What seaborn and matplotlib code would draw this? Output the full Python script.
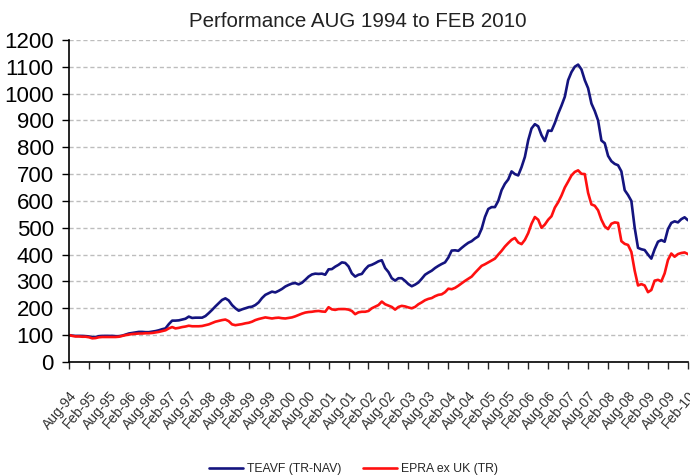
import matplotlib
matplotlib.use("Agg")
import matplotlib.pyplot as plt
import numpy as np
import pandas as pd
import seaborn as sns

# monthly index values, Aug-94 .. Feb-10
teavf = [
    100, 98, 97, 97, 97, 96, 95, 92, 93, 96, 97, 97, 97, 97, 96, 96, 98, 102,
    106, 108, 110, 112, 112, 111, 111, 113, 115, 118, 122, 125, 141, 154, 154,
    155, 158, 161, 169, 164, 165, 165, 165, 171, 182, 194, 207, 219, 231, 237,
    229, 212, 200, 191, 196, 200, 204, 206, 212, 222, 238, 250, 256, 262, 259,
    265, 272, 281, 287, 292, 294, 289, 295, 306, 318, 326, 329, 328, 329, 325,
    345, 346, 355, 362, 371, 369, 356, 330, 318, 325, 328, 345, 358, 362, 368,
    375, 379, 350, 335, 312, 303, 312, 312, 302, 290, 282, 288, 296, 310, 325,
    333, 340, 350, 358, 365, 371, 389, 415, 416, 414, 425, 435, 444, 450, 460,
    468, 496, 540, 570, 577, 577, 600, 640, 664, 680, 710, 700, 695, 726, 764,
    826, 870, 886, 878, 845, 823, 862, 861, 890, 925, 955, 988, 1050, 1080,
    1100, 1108, 1090, 1050, 1020, 963, 935, 900, 825, 815, 768, 748, 738, 733,
    710, 640, 622, 600, 500, 425, 420, 417, 400, 385, 420, 448, 454, 448, 495,
    518, 524, 520, 532, 539, 528,
]
epra = [
    100, 97, 95, 95, 94, 94, 92, 88, 89, 92, 93, 93, 93, 93, 93, 94, 97, 100,
    102, 104, 105, 106, 106, 107, 107, 108, 110, 112, 115, 118, 125, 130, 125,
    127, 130, 132, 135, 133, 133, 133, 134, 137, 140, 145, 150, 153, 156, 158,
    152, 140, 137, 139, 141, 144, 146, 150, 156, 160, 163, 166, 164, 162, 164,
    165, 163, 162, 164, 166, 170, 175, 180, 184, 186, 187, 189, 190, 188, 187,
    204, 196, 194, 197, 197, 197, 195, 190, 178, 185, 187, 187, 190, 200, 206,
    212, 225, 215, 210, 205, 195, 205, 209, 207, 203, 200, 205, 215, 222, 230,
    235, 238, 245, 250, 252, 260, 273, 271, 276, 284, 293, 302, 310, 318, 332,
    345, 358, 364, 371, 378, 385, 400, 414, 430, 443, 455, 462, 445, 439, 455,
    480, 515, 540, 530, 500, 512, 530, 543, 575, 595, 620, 650, 672, 695, 708,
    714, 701, 700, 630, 587, 582, 565, 530, 505, 495, 515, 520, 518, 450, 440,
    436, 410, 340, 285, 290, 285, 260, 268, 303, 306, 300, 330, 380, 404, 392,
    402, 406, 408, 402,
]
dates = pd.date_range("1994-08-01", periods=len(teavf), freq="MS")
tick_labels = [d.strftime("%b-%y") for d in dates[::6]]

df = pd.DataFrame({
    "month": np.arange(len(teavf)),
    "TEAVF (TR-NAV)": teavf,
    "EPRA ex UK (TR)": epra,
})
long = df.melt(id_vars="month", var_name="series", value_name="value")

sns.set_style("white")
plt.rcParams["font.family"] = ["Liberation Sans", "DejaVu Sans"]

fig = plt.figure(figsize=(6.9, 4.75), dpi=100)
ax = fig.add_axes([0.1, 0.238, 0.897, 0.678])

sns.lineplot(
    data=long, x="month", y="value", hue="series",
    palette={"TEAVF (TR-NAV)": "#14147f", "EPRA ex UK (TR)": "#ff1010"},
    linewidth=1.9, ax=ax, legend=False,
)

ax.set_xlim(0, len(teavf) - 1)
ax.set_ylim(0, 1200)
ax.set_yticks(range(0, 1201, 100))
ax.set_xticks(df["month"][::6])
ax.set_xticklabels(tick_labels, rotation=50, ha="right", rotation_mode="anchor",
                   fontsize=10, color="#333333")
ax.tick_params(axis="y", labelsize=16, length=5, width=1, direction="out",
               left=True, colors="black", pad=6)
ax.tick_params(axis="x", length=5, width=1, direction="out", bottom=True, pad=14)
ax.set_xlabel("")
ax.set_ylabel("")
ax.grid(axis="y", linestyle=(0, (3, 2)), color="#bdbdbd", linewidth=1)
for side in ["top", "right"]:
    ax.spines[side].set_visible(False)
for side in ["left", "bottom"]:
    ax.spines[side].set_color("black")
    ax.spines[side].set_linewidth(1.2)

fig.text(0.518, 0.955, "Performance AUG 1994 to FEB 2010", ha="center",
         va="center", fontsize=14.8, color="#222222")

handles = [plt.Line2D([], [], color="#14147f", linewidth=1.9),
           plt.Line2D([], [], color="#ff1010", linewidth=1.9)]
fig.legend(handles, ["TEAVF (TR-NAV)", "EPRA ex UK (TR)"], loc="center",
           bbox_to_anchor=(0.512, 0.013), ncol=2, frameon=False, fontsize=8.8,
           handlelength=2.8, columnspacing=1.75, handletextpad=0.3)

fig.savefig("out.png", dpi=100)
